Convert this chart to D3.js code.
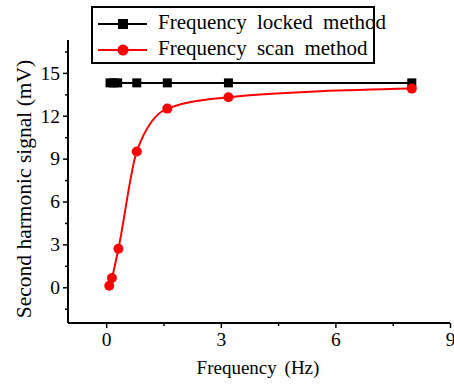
<!DOCTYPE html>
<html><head><meta charset="utf-8">
<script src="https://cdn.jsdelivr.net/npm/d3@7"></script>
<style>body{margin:0;background:#fff}svg{display:block}text{font-family:"Liberation Serif","Times New Roman",serif}</style>
</head><body>
<svg id="c" width="454" height="385"></svg>
<script>
const lockedX = [0.1, 0.2, 0.3, 0.8, 1.6, 3.2, 8];
const lockedY = [14.3, 14.3, 14.3, 14.3, 14.3, 14.3, 14.3];
const scanX = [0.08, 0.15, 0.32, 0.8, 1.6, 3.2, 8];
const scanY = [0.1, 0.65, 2.7, 9.5, 12.5, 13.3, 13.9];
const xTicks = [0, 3, 6, 9];
const yTicks = [0, 3, 6, 9, 12, 15];
const seriesNames = ["Frequency locked method", "Frequency scan method"];

const svg = d3.select("#c");
const x = d3.scaleLinear().domain([-1, 9]).range([68, 450]);
const y = d3.scaleLinear().domain([-2.5, 17.3]).range([323, 40]);

const gx = svg.append("g").attr("transform", "translate(0,323)")
  .call(d3.axisBottom(x).tickValues(xTicks).tickSize(5).tickPadding(4).tickFormat(d3.format("d")));
const gx2 = svg.append("g").attr("transform", "translate(0,323)")
  .call(d3.axisBottom(x).tickValues([1.5, 4.5, 7.5]).tickSize(3).tickFormat(""));
const gy = svg.append("g").attr("transform", "translate(68,0)")
  .call(d3.axisLeft(y).tickValues(yTicks).tickSize(5).tickPadding(3).tickFormat(d3.format("d")));
const gy2 = svg.append("g").attr("transform", "translate(68,0)")
  .call(d3.axisLeft(y).tickValues([-1.5, 1.5, 4.5, 7.5, 10.5, 13.5, 16.5]).tickSize(3).tickFormat(""));
svg.selectAll(".domain").attr("stroke", "#000").attr("stroke-width", 2);
svg.selectAll(".tick line").attr("stroke", "#000").attr("stroke-width", 1.5);
svg.selectAll(".tick text").attr("font-size", 19.5).attr("fill", "#000").attr("font-family", "Liberation Serif");
gx.select(".domain").attr("d", `M${x(-1)},0H${x(9)}`);
gy.select(".domain").attr("d", `M0,${y(-2.5)}V${y(17.3)}`);
gx2.select(".domain").remove();
gy2.select(".domain").remove();

// locked series
const locked = lockedX.map((v,i)=>[v, lockedY[i]]);
svg.append("path").attr("d", d3.line().x(d=>x(d[0])).y(d=>y(d[1]))(locked))
  .attr("fill","none").attr("stroke","#000").attr("stroke-width",2);
svg.selectAll(".sq").data(locked).enter().append("rect")
  .attr("x", d=>x(d[0])-4.5).attr("y", d=>y(d[1])-4.5).attr("width",9).attr("height",9).attr("fill","#000");

// scan series
const scan = scanX.map((v,i)=>[v, scanY[i]]);
svg.append("path").attr("d", d3.line().curve(d3.curveMonotoneX).x(d=>x(d[0])).y(d=>y(d[1]))(scan))
  .attr("fill","none").attr("stroke","#f00").attr("stroke-width",2);
svg.selectAll(".ci").data(scan).enter().append("circle")
  .attr("cx", d=>x(d[0])).attr("cy", d=>y(d[1])).attr("r",5).attr("fill","#f00");

// legend
const lg = svg.append("g");
lg.append("rect").attr("x",92).attr("y",7).attr("width",282).attr("height",56).attr("fill","#fff").attr("stroke","#000").attr("stroke-width",2);
const rows = [{n:seriesNames[0], c:"#000", m:"sq", yy:24},{n:seriesNames[1], c:"#f00", m:"ci", yy:50}];
rows.forEach(r=>{
  lg.append("line").attr("x1",98).attr("x2",147).attr("y1",r.yy).attr("y2",r.yy).attr("stroke",r.c).attr("stroke-width",2);
  if(r.m==="sq") lg.append("rect").attr("x",118).attr("y",r.yy-5).attr("width",10).attr("height",10).attr("fill",r.c);
  else lg.append("circle").attr("cx",123).attr("cy",r.yy).attr("r",5.5).attr("fill",r.c);
  lg.append("text").attr("x",158).attr("y",r.yy+5).attr("font-size",21).attr("word-spacing",5).text(r.n);
});

// axis titles
svg.append("text").attr("x", 258).attr("y", 374).attr("text-anchor","middle").attr("font-size",19).attr("word-spacing",3).text("Frequency (Hz)");
svg.append("text").attr("transform","translate(31,189) rotate(-90)").attr("text-anchor","middle").attr("font-size",21.5).text("Second harmonic signal (mV)");
</script>
</body></html>
